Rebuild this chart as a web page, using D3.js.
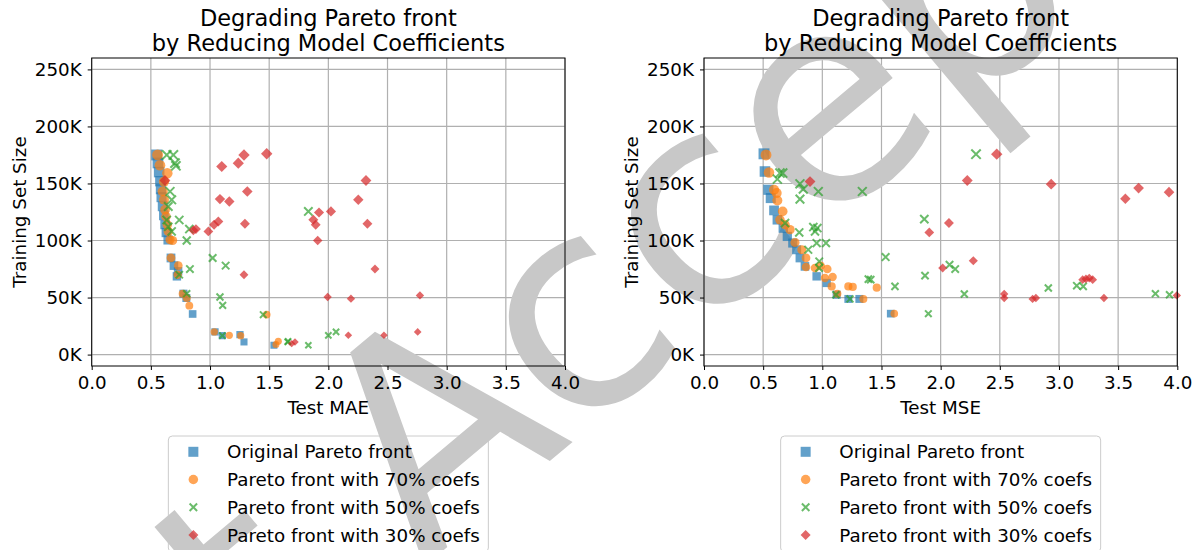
<!DOCTYPE html>
<html>
<head>
<meta charset="utf-8">
<script src="https://cdn.jsdelivr.net/npm/d3@7"></script>
<style>
  body { margin: 0; background: #fff; }
  svg { display: block; }
  text { font-family: "DejaVu Sans", sans-serif; }
</style>
</head>
<body>
<svg id="chart" width="1200" height="550"></svg>
<script>
// ---- axis ticks ----
const xTicks = [0, 0.5, 1.0, 1.5, 2.0, 2.5, 3.0, 3.5, 4.0];
const yTicks = [0, 50000, 100000, 150000, 200000, 250000];
const seriesNames = [
  "Original Pareto front",
  "Pareto front with 70% coefs",
  "Pareto front with 50% coefs",
  "Pareto front with 30% coefs"
];
const titleLines = ["Degrading Pareto front", "by Reducing Model Coefficients"];
const watermarkText = "Just Accepted";

// ---- Test MAE panel: [test error, training set size] ----
const maeOriginal = [
  [0.549,175000],[0.56,168000],[0.57,160000],[0.58,152000],[0.585,145000],[0.59,138000],
  [0.60,130000],[0.61,122000],[0.62,114000],[0.63,107000],[0.645,100500],
  [0.67,84700],[0.695,78000],[0.73,73000],[0.72,68600],[0.775,53400],[0.80,49600],
  [0.853,35600],[1.042,19900],[1.104,16600],[1.253,17500],[1.287,11100],[1.54,8200]
];
const mae70 = [
  [0.557,175000],[0.577,166000],[0.639,159000],[0.611,151700],[0.60,143000],[0.611,135700],
  [0.62,127000],[0.628,121000],[0.639,113800],[0.647,108000],[0.662,100700],[0.684,100000],
  [0.67,84700],[0.732,78000],[0.727,70000],[0.769,53400],[0.803,49600],[0.825,42900],
  [1.036,19900],[1.163,16900],[1.259,16600],[1.577,11600],[1.557,8800],[1.479,35000]
];
const mae50 = [
  [0.634,175000],[0.69,175000],[0.704,167800],[0.712,165500],[0.662,143000],[0.676,135700],
  [0.647,129800],[0.74,118000],[0.634,118000],[0.647,112000],[0.676,108000],[0.825,110000],
  [0.803,100000],[1.022,84700],[1.132,78000],[0.83,75000],[0.74,70000],[0.803,53400],
  [1.084,50500],[1.107,43200],[1.45,35000],[1.104,16600],[1.656,11100],[1.831,125500],
  [2.0,16900],[2.065,19900],[1.66,11600],[1.831,8200]
];
const mae30 = [
  [1.287,175000],[1.479,176000],[1.239,167800],[1.099,164900],[0.619,152600],[1.315,143000],
  [1.084,136300],[1.163,134200],[1.07,116700],[1.034,113800],[1.295,114700],[0.881,110000],
  [0.859,108900],[0.986,108000],[1.287,70000],[2.318,152600],[2.253,135700],[1.921,124600],
  [2.022,125500],[1.873,118200],[1.893,113800],[2.33,114700],[1.91,100000],[2.394,75000],
  [1.994,50500],[2.191,49000],[2.774,51900],[2.169,16900],[2.47,16900],[2.755,19900],
  [1.718,11100],[1.69,9600]
];

// ---- Test MSE panel ----
const mseOriginal = [
  [0.507,176000],[0.515,160500],[0.544,144500],[0.564,137200],[0.592,126400],[0.62,118200],
  [0.67,110900],[0.704,103600],[0.75,97800],[0.783,91900],[0.811,84700],[0.853,77300],
  [0.952,68600],[1.037,62800],[1.121,52500],[1.22,48800],[1.313,48800],[1.578,35900]
];
const mse70 = [
  [0.524,175000],[0.549,159600],[0.592,144500],[0.614,141600],[0.62,135100],[0.665,125500],
  [0.642,118200],[0.685,113800],[0.727,109500],[0.769,98300],[0.826,91900],[0.862,84700],
  [0.862,76800],[0.938,75900],[0.986,77900],[1.042,75000],[1.022,67100],[1.087,68000],
  [1.079,59800],[1.127,53400],[1.22,59800],[1.257,59300],[1.347,48800],[1.46,58700],[1.608,35900]
];
const mse50 = [
  [0.665,159100],[0.62,153800],[0.642,159100],[0.811,149700],[0.839,145100],[0.966,143000],
  [0.811,136300],[1.338,143000],[0.685,115300],[0.805,107100],[0.924,111800],[0.938,108000],
  [0.958,110900],[0.952,97800],[1.031,97800],[0.881,91900],[0.974,81700],[0.972,75900],
  [1.389,66200],[1.409,65700],[1.535,85500],[1.614,59800],[1.115,52500],[1.234,48800],
  [2.299,175700],[1.862,118800],[1.868,69200],[2.075,78800],[2.123,75000],[2.2,53100],
  [2.91,58400],[3.15,60400],[3.205,59800],[3.815,53400],[3.934,52500],[1.896,35900]
];
const mse30 = [
  [0.896,151700],[2.474,175700],[2.225,152600],[2.934,149400],[3.561,136600],[3.673,146000],
  [3.93,142400],[1.904,107100],[2.07,115300],[2.276,82300],[2.017,75900],[2.537,53100],
  [2.537,49600],[2.777,48800],[2.805,49600],[3.2,65700],[3.228,66300],[3.256,67100],
  [3.285,65700],[3.38,49600],[3.996,51900]
];

const panels = [
  { xLabel: "Test MAE", left: 91.7, series: [maeOriginal, mae70, mae50, mae30] },
  { xLabel: "Test MSE", left: 704,  series: [mseOriginal, mse70, mse50, mse30] }
];

const colors = ["#1f77b4", "#ff7f0e", "#2ca02c", "#d62728"];
const shapes = ["square", "circle", "cross", "diamond"];
const plotW = 473.3, plotTop = 58, plotBottom = 366;
const FS = 18.3;

const svg = d3.select("#chart");
const back = svg.append("g");   // grid lines and legend boxes
const mark = svg.append("g");   // watermark
const front = svg.append("g");  // data, axes and text

// marker size grows gently with training set size
const sizeScale = d3.scaleLinear().domain([0, 180000]).range([0.62, 1.0]).clamp(true);

function drawMarker(g, shape, color, size, cx, cy, alpha) {
  const h = size / 2;
  if (shape === "square") {
    g.append("rect").attr("x", cx - h).attr("y", cy - h).attr("width", size).attr("height", size)
      .style("fill", color).style("fill-opacity", alpha);
  } else if (shape === "circle") {
    g.append("circle").attr("cx", cx).attr("cy", cy).attr("r", h)
      .style("fill", color).style("fill-opacity", alpha);
  } else if (shape === "cross") {
    g.append("path").attr("d", `M${cx - h},${cy - h}L${cx + h},${cy + h}M${cx - h},${cy + h}L${cx + h},${cy - h}`)
      .style("stroke", color).style("stroke-opacity", alpha).style("stroke-width", 2).style("fill", "none");
  } else {
    g.append("path").attr("d", `M${cx},${cy - h}L${cx + h},${cy}L${cx},${cy + h}L${cx - h},${cy}Z`)
      .style("fill", color).style("fill-opacity", alpha);
  }
}
const baseSize = [11, 11, 9.5, 11.5];
const legendSize = [10, 9.5, 7.5, 10];

panels.forEach(p => {
  const x = d3.scaleLinear().domain([0, 4]).range([p.left, p.left + plotW]);
  const y = d3.scaleLinear().domain([-10000, 260000]).range([plotBottom, plotTop]);
  const cxMid = p.left + plotW / 2;

  // grid
  back.append("g").selectAll("line").data(xTicks).join("line")
    .attr("x1", d => x(d)).attr("x2", d => x(d)).attr("y1", plotTop).attr("y2", plotBottom)
    .style("stroke", "#b0b0b0").style("stroke-width", 1.2);
  back.append("g").selectAll("line").data(yTicks).join("line")
    .attr("x1", p.left).attr("x2", p.left + plotW).attr("y1", d => y(d)).attr("y2", d => y(d))
    .style("stroke", "#b0b0b0").style("stroke-width", 1.2);

  const g = front.append("g");

  // axes
  const xAxis = d3.axisBottom(x).tickValues(xTicks).tickFormat(d3.format(".1f")).tickSize(4).tickPadding(6);
  const yAxis = d3.axisLeft(y).tickValues(yTicks).tickFormat(d => (d / 1000) + "K").tickSize(4).tickPadding(6);
  const gx = g.append("g").attr("transform", `translate(0,${plotBottom})`).call(xAxis);
  const gy = g.append("g").attr("transform", `translate(${p.left},0)`).call(yAxis);
  [gx, gy].forEach(a => {
    a.attr("font-size", null).attr("font-family", null);
    a.select(".domain").remove();
    a.selectAll("text").style("font-size", FS + "px").style("fill", "#000");
    a.selectAll("line").style("stroke", "#000").style("stroke-width", 1);
  });

  // points (later series on top)
  const pts = g.append("g");
  p.series.forEach((data, si) => {
    data.forEach(d => {
      drawMarker(pts, shapes[si], colors[si], baseSize[si] * sizeScale(d[1]), x(d[0]), y(d[1]), 0.7);
    });
  });

  // frame
  g.append("rect").attr("x", p.left).attr("y", plotTop).attr("width", plotW).attr("height", plotBottom - plotTop)
    .style("fill", "none").style("stroke", "#000").style("stroke-width", 1);

  // title
  titleLines.forEach((t, i) => {
    g.append("text").attr("x", cxMid).attr("y", 26 + i * 24.5).attr("text-anchor", "middle")
      .style("font-size", "22.5px").style("fill", "#000").text(t);
  });

  // axis labels
  g.append("text").attr("x", cxMid).attr("y", 414).attr("text-anchor", "middle")
    .style("font-size", FS + "px").style("fill", "#000").text(p.xLabel);
  g.append("text").attr("transform", `translate(${p.left - 66},${(plotTop + plotBottom) / 2}) rotate(-90)`)
    .attr("text-anchor", "middle").style("font-size", FS + "px").style("fill", "#000").text("Training Set Size");

  // legend
  const lx = cxMid - 160, ly = 436;
  back.append("rect").attr("x", lx).attr("y", ly).attr("width", 320).attr("height", 116).attr("rx", 4)
    .style("fill", "#fff").style("fill-opacity", 0.8).style("stroke", "#cccccc").style("stroke-width", 1);
  seriesNames.forEach((name, i) => {
    const ry = ly + 15.8 + i * 27.7;
    drawMarker(g, shapes[i], colors[i], legendSize[i], lx + 25, ry, 0.7);
    g.append("text").attr("x", lx + 58.7).attr("y", ry + 6.6).style("font-size", FS + "px")
      .style("fill", "#000").text(name);
  });
});

// diagonal watermark
mark.append("text")
  .attr("transform", "translate(700,335) rotate(-40)")
  .attr("text-anchor", "middle")
  .style("font-size", "290px")
  .style("fill", "#c8c8c8")
  .text(watermarkText);
</script>
</body>
</html>
